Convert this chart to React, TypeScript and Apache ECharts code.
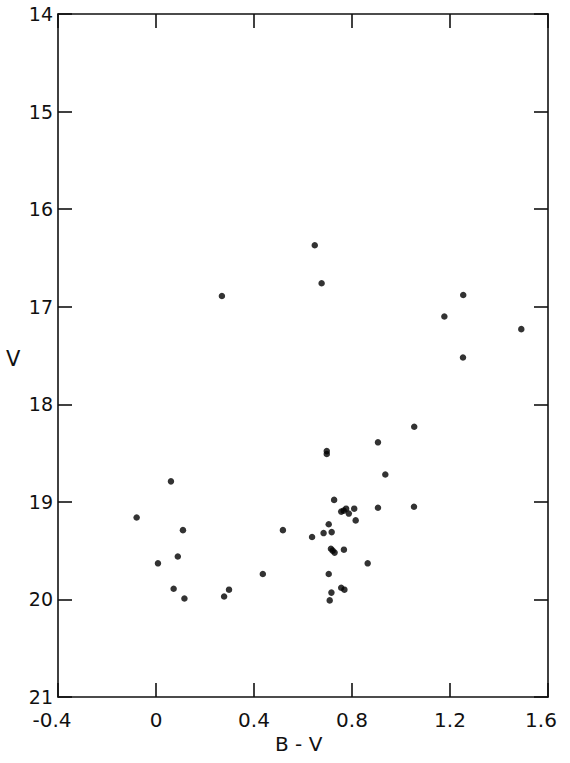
import React, { useEffect, useRef } from "react";
import * as echarts from "echarts";

const xTicks = [-0.4, 0, 0.4, 0.8, 1.2, 1.6];
const yTicks = [14, 15, 16, 17, 18, 19, 20, 21];

const bv = [
  0.648, 0.676, 0.269, 1.254, 1.177, 1.491, 1.253, 1.054, 0.906, 0.697,
  0.697, 0.936, 0.061, 0.727, 0.906, 1.053, 0.756, 0.766, 0.776, 0.787,
  0.809, 0.815, -0.079, 0.11, 0.518, 0.705, 0.637, 0.684, 0.717, 0.714,
  0.721, 0.729, 0.767, 0.089, 0.008, 0.864, 0.436, 0.705, 0.072, 0.298,
  0.278, 0.116, 0.756, 0.769, 0.716, 0.709,
];
const vmag = [
  16.37, 16.76, 16.89, 16.88, 17.1, 17.23, 17.52, 18.23, 18.39, 18.48,
  18.51, 18.72, 18.79, 18.98, 19.06, 19.05, 19.1, 19.09, 19.07, 19.12,
  19.07, 19.19, 19.16, 19.29, 19.29, 19.23, 19.36, 19.32, 19.31, 19.48,
  19.5, 19.52, 19.49, 19.56, 19.63, 19.63, 19.74, 19.74, 19.89, 19.9,
  19.97, 19.99, 19.88, 19.9, 19.93, 20.01,
];

const xTitle = "B - V";
const yTitle = "V";

export default function App() {
  const ref = useRef<HTMLDivElement>(null);
  useEffect(() => {
    if (!ref.current) return;
    const chart = echarts.init(ref.current, null, { renderer: "svg" });
    const font = "DejaVu Sans";
    const lineStyle = { color: "#111", width: 1.6 };
    const xMin = xTicks[0];
    const xMax = xTicks[xTicks.length - 1];
    const xBase = {
      type: "value" as const,
      min: xMin,
      max: xMax,
      interval: 0.4,
      splitLine: { show: false },
      axisLine: { show: true, onZero: false, lineStyle },
      axisTick: { show: true, inside: true, length: 14, lineStyle },
    };
    const yBase = {
      type: "value" as const,
      min: yTicks[0],
      max: yTicks[yTicks.length - 1],
      interval: 1,
      inverse: true,
      splitLine: { show: false },
      axisLine: { show: true, onZero: false, lineStyle },
      axisTick: { show: true, inside: true, length: 14, lineStyle },
    };
    const txt = { fontFamily: font, fontSize: 20, color: "#111" };
    chart.setOption({
      animation: false,
      backgroundColor: "#fff",
      grid: { left: 58, right: 22, top: 14, bottom: 66, containLabel: false },
      xAxis: [
        {
          ...xBase,
          position: "bottom",
          axisLabel: {
            show: true,
            margin: 13,
            ...txt,
            formatter: (v: number) => {
              const s = String(Math.round(v * 10) / 10);
              if (Math.abs(v - xMin) < 1e-6) return `{l|${s}}`;
              if (Math.abs(v - xMax) < 1e-6) return `{r|${s}}`;
              return s;
            },
            rich: {
              l: { ...txt, padding: [0, 12, 0, 0] },
              r: { ...txt, padding: [0, 14, 0, 0] },
            },
          },
        },
        { ...xBase, position: "top", axisLabel: { show: false } },
      ],
      yAxis: [
        {
          ...yBase,
          position: "left",
          axisLabel: { show: true, margin: 5, ...txt, fontSize: 19 },
        },
        { ...yBase, position: "right", axisLabel: { show: false } },
      ],
      graphic: [
        {
          type: "text",
          left: 6,
          top: 348,
          style: { text: yTitle, fontFamily: font, fontSize: 21, fill: "#111" },
        },
        {
          type: "text",
          left: 275,
          top: 734,
          style: { text: xTitle, fontFamily: font, fontSize: 20, fill: "#111" },
        },
      ],
      series: [
        {
          type: "scatter",
          xAxisIndex: 0,
          yAxisIndex: 0,
          symbol: "circle",
          symbolSize: 6.5,
          itemStyle: { color: "#000" },
          data: bv.map((x, i) => [x, vmag[i]]),
        },
      ],
    });
    return () => chart.dispose();
  }, []);
  return (
    <div
      ref={ref}
      style={{ position: "absolute", left: 0, top: 0, width: 570, height: 763 }}
    />
  );
}
